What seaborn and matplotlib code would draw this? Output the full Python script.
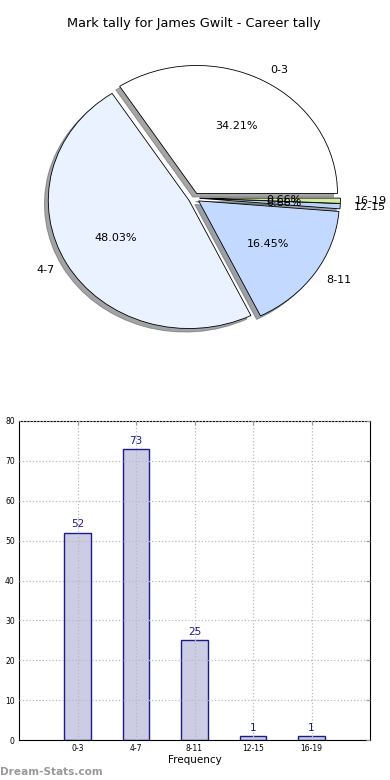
import matplotlib
matplotlib.use("Agg")
import matplotlib.pyplot as plt
import seaborn as sns
import pandas as pd

categories = ["0-3", "4-7", "8-11", "12-15", "16-19"]
counts = [52, 73, 25, 1, 1]
pie_colors = ["#FFFFFF", "#EAF1FF", "#C4D9FF", "#B7D3F5", "#D3EBA2"]
title = "Mark tally for James Gwilt - Career tally"
yticks = [0, 10, 20, 30, 40, 50, 60, 70, 80]

sns.set_style("white")
plt.rcParams['font.family'] = ['DejaVu Sans']
plt.rcParams['text.color'] = 'black'
plt.rcParams['axes.labelcolor'] = 'black'
plt.rcParams['xtick.color'] = 'black'
plt.rcParams['ytick.color'] = 'black'

fig = plt.figure(figsize=(3.9, 7.8), dpi=100)

# Pie
ax1 = fig.add_axes([18/390, 1 - 358/780, 352/390, 320/780])
wedges, texts, autotexts = ax1.pie(
    counts, labels=categories, colors=pie_colors, explode=[0.04]*5,
    autopct="%1.2f%%", shadow=True, startangle=0,
    wedgeprops=dict(edgecolor="black", linewidth=0.6),
    textprops=dict(fontsize=8, color="black"))
ax1.set_aspect("auto")
ax1.set_xlim(-1.25, 1.25)
ax1.set_ylim(-1.25, 1.25)
ax1.set_title(title, fontsize=9.3, pad=8, color="black")

# Bar
ax2 = fig.add_axes([19/390, 1 - 740/780, 351/390, 319/780])
df = pd.DataFrame({"cat": categories, "count": counts})
sns.barplot(data=df, x="cat", y="count", ax=ax2, width=0.45,
            color="#CCCCE4", saturation=1, edgecolor="#1A1A8C", linewidth=1)
for i, v in enumerate(counts):
    ax2.text(i, v + 0.8, str(v), ha="center", va="bottom", color="#1A1A8C", fontsize=7.5)
ax2.set_xlim(-1, 5)
ax2.set_ylim(0, 80)
ax2.set_yticks(yticks)
ax2.set_axisbelow(False)
ax2.grid(True, linestyle=":", color="#BBBBBB", linewidth=0.9)
ax2.tick_params(axis="both", labelsize=5.5, direction="in", length=3, color="#999999", pad=3)
ax2.tick_params(top=True, right=True)
ax2.set_xlabel("Frequency", fontsize=7.5, labelpad=1)
ax2.set_ylabel("")
for s in ax2.spines.values():
    s.set_color("black")
    s.set_linewidth(0.8)

fig.text(0.0, 3/780, "Dream-Stats.com", fontsize=7.6, color="#999999", fontweight="semibold", ha="left", va="bottom")

fig.savefig("out.png", dpi=100)
